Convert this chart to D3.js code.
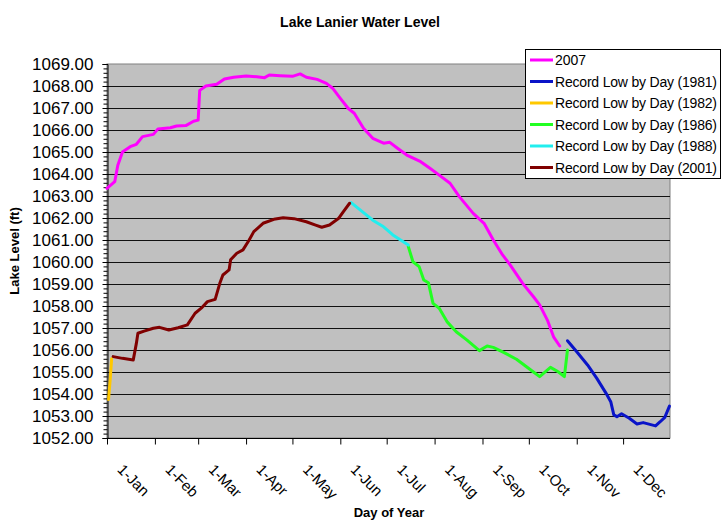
<!DOCTYPE html>
<html>
<head>
<meta charset="utf-8">
<script src="https://cdn.jsdelivr.net/npm/d3@7"></script>
<style>
  body { margin: 0; background: #fff; }
  text { font-family: "Liberation Sans", Arial, sans-serif; }
</style>
</head>
<body>
<svg id="chart" width="721" height="520"></svg>
<script>
// x values are day of year (0 = 1-Jan), y values are lake level in ft
var monthStarts = [0, 31, 59, 90, 120, 151, 181, 212, 243, 273, 304, 334];
var monthLabels = ["1-Jan", "1-Feb", "1-Mar", "1-Apr", "1-May", "1-Jun", "1-Jul", "1-Aug", "1-Sep", "1-Oct", "1-Nov", "1-Dec"];
var levelTicks = [1052, 1053, 1054, 1055, 1056, 1057, 1058, 1059, 1060, 1061, 1062, 1063, 1064, 1065, 1066, 1067, 1068, 1069];

var level2007 = [
  [0,1063.35],[5,1063.65],[7,1064.4],[10,1065.0],[15,1065.24],[19,1065.35],[23,1065.7],[30,1065.8],
  [33,1066.05],[41,1066.1],[45,1066.18],[51,1066.2],[56,1066.4],[59,1066.45],[60,1067.8],[64,1068.0],
  [71,1068.08],[76,1068.32],[82,1068.4],[90,1068.45],[97,1068.42],[102,1068.38],[105,1068.5],[112,1068.47],
  [120,1068.44],[125,1068.55],[129,1068.4],[136,1068.3],[142,1068.12],[146,1067.9],[151,1067.44],[156,1066.99],
  [160,1066.76],[166,1066.08],[172,1065.62],[179,1065.4],[183,1065.44],[188,1065.17],[194,1064.86],[203,1064.56],
  [209,1064.26],[215,1063.95],[222,1063.58],[228,1062.97],[237,1062.21],[244,1061.76],[250,1061.0],[256,1060.32],
  [261,1059.86],[269,1059.03],[276,1058.42],[280,1058.05],[285,1057.36],[289,1056.6],[293,1056.18]
];
var low1981 = [
  [298,1056.42],[304,1055.92],[311,1055.32],[317,1054.71],[323,1054.03],[326,1053.65],[328,1053.05],[330,1052.97],
  [333,1053.1],[338,1052.9],[343,1052.64],[347,1052.7],[355,1052.55],[358,1052.74],[361,1052.94],[364,1053.45]
];
var low1982 = [[1,1053.75],[2,1054.6],[3,1055.6]];
var low1986 = [
  [195,1060.7],[198,1060.01],[202,1059.79],[205,1059.18],[208,1059.06],[211,1058.12],[215,1057.9],[220,1057.29],
  [226,1056.83],[233,1056.45],[241,1055.97],[246,1056.18],[250,1056.12],[257,1055.88],[265,1055.58],[276,1055.0],
  [280,1054.79],[287,1055.21],[292,1055.01],[296,1054.79],[298,1056.0]
];
var low1988 = [[158,1062.7],[164,1062.36],[172,1061.9],[179,1061.6],[185,1061.23],[190,1061.0],[195,1060.77]];
var low2001 = [
  [4,1055.7],[10,1055.62],[17,1055.55],[19,1056.3],[20,1056.76],[24,1056.86],[30,1056.99],[34,1057.03],
  [40,1056.91],[46,1057.01],[52,1057.14],[57,1057.67],[61,1057.9],[65,1058.2],[70,1058.3],[73,1059.03],
  [75,1059.41],[79,1059.64],[80,1060.1],[84,1060.4],[88,1060.55],[92,1061.0],[95,1061.38],[101,1061.76],
  [108,1061.94],[114,1062.01],[121,1061.97],[129,1061.83],[135,1061.68],[139,1061.58],[144,1061.68],[150,1061.99],
  [153,1062.29],[157,1062.67]
];

var seriesNames = ["2007", "Record Low by Day (1981)", "Record Low by Day (1982)", "Record Low by Day (1986)", "Record Low by Day (1988)", "Record Low by Day (2001)"];
var seriesColors = ["#ff00ff", "#0a14c8", "#ffc800", "#22ff22", "#22eeee", "#800000"];
var seriesData = [level2007, low1981, low1982, low1986, low1988, low2001];

var svg = d3.select("#chart");

var plotLeft = 107, plotRight = 670, plotTop = 64, plotBottom = 438;

var x = d3.scaleLinear().domain([0, 365]).range([plotLeft, 671]);
var y = d3.scaleLinear().domain([1052, 1069]).range([plotBottom, plotTop]);

svg.append("rect")
  .attr("x", plotLeft).attr("y", plotTop)
  .attr("width", plotRight - plotLeft).attr("height", plotBottom - plotTop)
  .attr("fill", "#c0c0c0")
  .attr("stroke", "#808080");

// gridlines
svg.append("g").selectAll("line")
  .data(levelTicks.filter(d => d > 1052 && d < 1069))
  .enter().append("line")
  .attr("x1", plotLeft).attr("x2", plotRight)
  .attr("y1", d => y(d) + 0.5).attr("y2", d => y(d) + 0.5)
  .attr("stroke", "#111")
  .attr("stroke-width", 1);

// y axis, minor ticks first
var minorTicks = d3.range(1052, 1069.001, 0.2);
svg.append("g")
  .attr("transform", "translate(" + (plotLeft + 0.5) + ",0)")
  .call(d3.axisLeft(y).tickValues(minorTicks).tickSize(4).tickFormat(""))
  .call(g => g.select(".domain").remove());

var yAxis = svg.append("g")
  .attr("transform", "translate(" + (plotLeft + 0.5) + ",0)")
  .call(d3.axisLeft(y).tickValues(levelTicks).tickSize(5).tickPadding(9).tickFormat(d3.format(".2f")));
yAxis.selectAll("text").attr("font-size", 17).attr("fill", "#000").attr("font-family", "Liberation Sans, Arial, sans-serif");
yAxis.select(".domain").attr("stroke", "#000");

var xAxis = svg.append("g")
  .attr("transform", "translate(0," + (plotBottom + 0.5) + ")")
  .call(d3.axisBottom(x).tickValues(monthStarts).tickSize(6).tickFormat((d, i) => monthLabels[i]));
xAxis.select(".domain").attr("d", "M" + plotLeft + ",0H" + plotRight).attr("stroke", "#000");
xAxis.selectAll("text")
  .attr("font-size", 15)
  .attr("font-family", "Liberation Sans, Arial, sans-serif")
  .attr("fill", "#000")
  .attr("text-anchor", "start")
  .attr("y", 0).attr("dy", 0)
  .attr("transform", "translate(9,32) rotate(45)");

// series
var line = d3.line()
  .x(d => x(d[0]))
  .y(d => y(d[1]));

svg.append("g").selectAll("path")
  .data(seriesData)
  .enter().append("path")
  .attr("d", line)
  .attr("fill", "none")
  .attr("stroke", (d, i) => seriesColors[i])
  .attr("stroke-width", 3)
  .attr("stroke-linejoin", "round")
  .attr("stroke-linecap", "round");

// titles
svg.append("text")
  .attr("x", 360).attr("y", 27)
  .attr("text-anchor", "middle")
  .attr("font-size", 14).attr("font-weight", "bold")
  .text("Lake Lanier Water Level");

svg.append("text")
  .attr("transform", "translate(19,251) rotate(-90)")
  .attr("text-anchor", "middle")
  .attr("font-size", 13).attr("font-weight", "bold")
  .text("Lake Level (ft)");

svg.append("text")
  .attr("x", 389).attr("y", 517)
  .attr("text-anchor", "middle")
  .attr("font-size", 13).attr("font-weight", "bold")
  .text("Day of Year");

// legend
var legend = svg.append("g");
legend.append("rect")
  .attr("x", 525.5).attr("y", 49.5)
  .attr("width", 195).attr("height", 129)
  .attr("fill", "#fff").attr("stroke", "#000");

var rows = legend.selectAll("g.row")
  .data(seriesNames)
  .enter().append("g")
  .attr("class", "row")
  .attr("transform", (d, i) => "translate(0," + (60 + i * 21.5) + ")");
rows.append("line")
  .attr("x1", 530).attr("x2", 553)
  .attr("stroke", (d, i) => seriesColors[i])
  .attr("stroke-width", 3);
rows.append("text")
  .attr("x", 555).attr("dy", "0.36em")
  .attr("font-size", 14)
  .attr("textLength", d => d.length > 4 ? 162 : null)
  .text(d => d);
</script>
</body>
</html>
